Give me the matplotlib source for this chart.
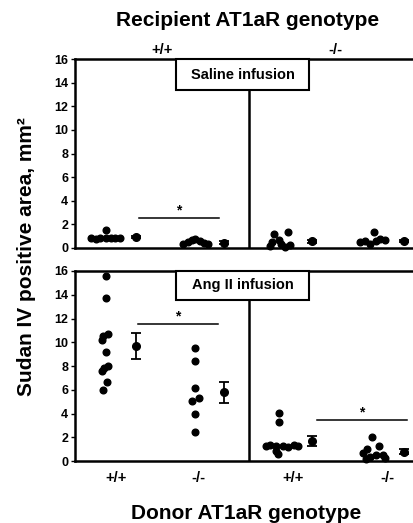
import matplotlib
matplotlib.use('Agg')
import matplotlib.pyplot as plt
from matplotlib.patches import Rectangle

plt.rcParams['font.family'] = ['Liberation Sans', 'DejaVu Sans']
plt.rcParams['font.weight'] = 'bold'

# x positions of the four donor/recipient groups and their means
group_x = [0.35, 1.38, 2.36, 3.40]
mean_x = [0.70, 1.71, 2.72, 3.77]
tick_x = [0.47, 1.42, 2.50, 3.58]
tick_labels = ['+/+', '-/-', '+/+', '-/-']

# saline infusion, individual mice
sal_wt_wt = [0.8, 0.75, 0.8, 1.55, 0.8, 0.8, 0.85, 0.8]
sal_ko_wt = [0.3, 0.5, 0.7, 0.75, 0.6, 0.4, 0.3]
sal_wt_ko = [0.2, 0.5, 1.2, 0.7, 0.3, 1.35, 0.1, 0.25]
sal_ko_ko = [0.5, 0.6, 0.3, 1.35, 0.55, 0.75, 0.7]
sal_mean = [0.9, 0.45, 0.55, 0.6]
sal_sem = [0.1, 0.1, 0.1, 0.1]

# Ang II infusion, individual mice
ang_wt_wt = [15.6, 13.7, 10.7, 10.5, 10.2, 9.2, 8.0, 7.8, 7.6, 6.7, 6.0]
ang_ko_wt = [9.5, 8.4, 6.2, 5.3, 5.1, 4.0, 2.5]
ang_wt_ko = [4.1, 3.3, 1.3, 1.35, 1.3, 1.25, 1.2, 1.35, 1.3, 0.9, 0.6]
ang_ko_ko = [2.0, 1.3, 1.0, 0.7, 0.5, 0.5, 0.4, 0.3, 0.2]
ang_mean = [9.7, 5.8, 1.7, 0.8]
ang_sem = [1.1, 0.9, 0.45, 0.2]

# horizontal jitter of the dots inside each group
sal_jit = [[-0.17, -0.11, -0.06, 0.0, 0.0, 0.06, 0.11, 0.17],
           [-0.14, -0.09, -0.04, 0.0, 0.05, 0.1, 0.14],
           [-0.13, -0.1, -0.08, -0.02, 0.0, 0.08, 0.05, 0.1],
           [-0.13, -0.07, -0.02, 0.03, 0.05, 0.1, 0.15]]
ang_jit = [[0.0, 0.0, 0.03, -0.03, -0.04, 0.0, 0.03, -0.02, -0.04, 0.02, -0.03],
           [0.0, 0.0, 0.0, 0.04, -0.04, 0.0, 0.0],
           [-0.02, -0.02, -0.17, -0.12, -0.06, 0.02, 0.08, 0.15, 0.2, -0.06, -0.03],
           [0.0, 0.08, -0.05, -0.1, 0.05, 0.13, -0.02, 0.15, -0.06]]

# significance bars: (x0, x1, y)
sal_sig = [(0.73, 1.65, 2.5)]
ang_sig = [(0.72, 1.64, 11.5), (2.77, 3.81, 3.45)]

fig = plt.figure(figsize=(4.13, 5.23), dpi=100)
ax_top = fig.add_axes([0.1816, 0.526, 0.83, 0.361])
ax_bot = fig.add_axes([0.1816, 0.118, 0.83, 0.364])


def draw_panel(ax, groups, jit, means, sems, sigs, label, box_y):
    for gx, vals, jj in zip(group_x, groups, jit):
        ax.plot([gx + j for j in jj], vals, 'o', color='black', ms=4.8, clip_on=False, zorder=3)
    ax.errorbar(mean_x, means, yerr=sems, fmt='o', color='black', ms=5.5,
                capsize=3.5, elinewidth=1.3, capthick=1.3, zorder=3)
    for x0, x1, y in sigs:
        ax.plot([x0, x1], [y, y], color='black', lw=1.1)
        ax.text((x0 + x1) / 2, y + 0.1, '*', ha='center', va='bottom', fontsize=10)
    ax.axvline(2.0, color='black', lw=1.8, zorder=1)
    ax.set_xlim(0, 3.93)
    ax.set_ylim(0, 16)
    ax.set_yticks(range(0, 17, 2))
    ax.tick_params(axis='y', labelsize=9, length=3, width=1, pad=2)
    ax.tick_params(axis='x', length=0)
    for s in ['left', 'bottom', 'top']:
        ax.spines[s].set_linewidth(1.8)
    ax.spines['right'].set_visible(False)
    for t in ax.get_yticklabels():
        t.set_fontweight('bold')
    ax.add_patch(Rectangle((0.296, box_y), 0.386, 1 - box_y, transform=ax.transAxes,
                           facecolor='white', edgecolor='black', lw=1.5, zorder=5, clip_on=False))
    ax.text(0.489, (1 + box_y) / 2, label, transform=ax.transAxes, ha='center', va='center',
            fontsize=10.5, zorder=6)


draw_panel(ax_top, [sal_wt_wt, sal_ko_wt, sal_wt_ko, sal_ko_ko], sal_jit,
           sal_mean, sal_sem, sal_sig, 'Saline infusion', 0.836)
draw_panel(ax_bot, [ang_wt_wt, ang_ko_wt, ang_wt_ko, ang_ko_ko], ang_jit,
           ang_mean, ang_sem, ang_sig, 'Ang II infusion', 0.847)

ax_top.set_xticks([])
ax_bot.set_xticks(tick_x)
ax_bot.set_xticklabels(tick_labels, fontsize=10.5, fontweight='bold')
ax_bot.tick_params(axis='x', pad=7)

ax_top.text(0.255, 1.012, '+/+', transform=ax_top.transAxes, ha='center', va='bottom', fontsize=10.5)
ax_top.text(0.76, 1.012, '-/-', transform=ax_top.transAxes, ha='center', va='bottom', fontsize=10.5)

fig.text(0.60, 0.961, 'Recipient AT1aR genotype', ha='center', va='center', fontsize=15)
fig.text(0.595, 0.019, 'Donor AT1aR genotype', ha='center', va='center', fontsize=15)
fig.text(0.063, 0.509, 'Sudan IV positive area, mm\u00b2', ha='center', va='center',
         rotation=90, fontsize=15)

fig.savefig('out.png', dpi=100)
